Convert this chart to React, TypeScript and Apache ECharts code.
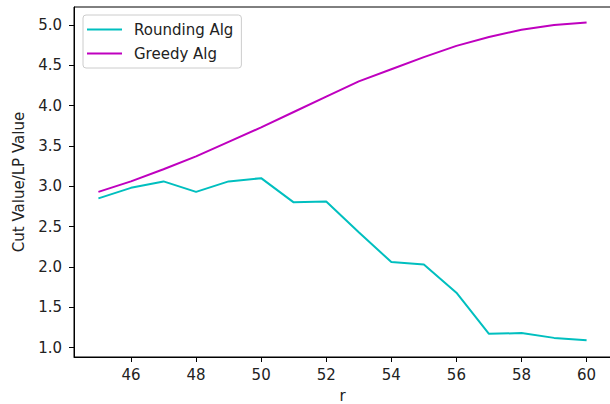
import React, { useEffect, useRef } from "react";
import * as echarts from "echarts";

const rValues = [45, 46, 47, 48, 49, 50, 51, 52, 53, 54, 55, 56, 57, 58, 59, 60];
const roundingAlg = [2.85, 2.98, 3.06, 2.93, 3.06, 3.10, 2.80, 2.81, 2.43, 2.06, 2.03, 1.68, 1.17, 1.18, 1.12, 1.09];
const greedyAlg = [2.93, 3.06, 3.21, 3.37, 3.55, 3.73, 3.92, 4.11, 4.30, 4.45, 4.60, 4.74, 4.85, 4.94, 5.00, 5.03];
const xTicks = [46, 48, 50, 52, 54, 56, 58, 60];
const yTicks = [1.0, 1.5, 2.0, 2.5, 3.0, 3.5, 4.0, 4.5, 5.0];
const xLabel = "r";
const yLabel = "Cut Value/LP Value";

const FONT = "DejaVu Sans";
const FS = 15;

export default function App() {
  const ref = useRef<HTMLDivElement>(null);
  useEffect(() => {
    const chart = echarts.init(ref.current!, null, { renderer: "svg" });
    chart.setOption({
      animation: false,
      backgroundColor: "#fff",
      grid: {
        left: 74,
        top: 7,
        bottom: 47,
        right: 3,
        containLabel: false,
        outerBoundsMode: "none",
        show: true,
        borderColor: "#000",
        borderWidth: 1,
        backgroundColor: "transparent",
      },
      legend: {
        left: 83,
        top: 15,
        orient: "vertical",
        icon: "rect",
        itemWidth: 35,
        itemHeight: 2,
        itemGap: 7,
        padding: [6, 8, 6, 4],
        borderColor: "#cccccc",
        borderWidth: 1,
        borderRadius: 3,
        backgroundColor: "rgba(255,255,255,0.8)",
        textStyle: { fontFamily: FONT, fontSize: FS, lineHeight: 17, color: "#222", padding: [0, 0, 0, 7] },
        data: ["Rounding Alg", "Greedy Alg"],
      },
      graphic: [
        {
          type: "text",
          x: 19,
          y: 182,
          rotation: Math.PI / 2,
          style: { text: yLabel, fontFamily: FONT, fontSize: FS, fill: "#222", align: "center", verticalAlign: "middle" },
        },
      ],
      xAxis: {
        type: "value",
        min: 44.25,
        max: 60.75,
        name: xLabel,
        nameLocation: "middle",
        nameGap: 31,
        nameTextStyle: { fontFamily: FONT, fontSize: FS, color: "#222" },
        axisLine: { show: true, onZero: false, lineStyle: { color: "#000", width: 1 } },
        axisTick: { show: true, length: 5, lineStyle: { color: "#000" }, customValues: xTicks },
        axisLabel: { fontFamily: FONT, fontSize: FS, color: "#222", margin: 10, customValues: xTicks },
        splitLine: { show: false },
      },
      yAxis: {
        type: "value",
        min: 0.883,
        max: 5.222,
        axisLine: { show: true, onZero: false, lineStyle: { color: "#000", width: 1 } },
        axisTick: { show: true, length: 5, lineStyle: { color: "#000" }, customValues: yTicks },
        axisLabel: {
          fontFamily: FONT,
          fontSize: FS,
          color: "#222",
          margin: 12,
          customValues: yTicks,
          formatter: (v: number) => v.toFixed(1),
        },
        splitLine: { show: false },
      },
      series: [
        {
          name: "Rounding Alg",
          type: "line",
          data: rValues.map((r, i) => [r, roundingAlg[i]]),
          symbol: "none",
          lineStyle: { color: "#00bfbf", width: 2 },
          itemStyle: { color: "#00bfbf" },
        },
        {
          name: "Greedy Alg",
          type: "line",
          data: rValues.map((r, i) => [r, greedyAlg[i]]),
          symbol: "none",
          lineStyle: { color: "#bf00bf", width: 2 },
          itemStyle: { color: "#bf00bf" },
        },
      ],
    });
    return () => chart.dispose();
  }, []);
  return (
    <div style={{ position: "fixed", left: 0, top: 0, width: 610, height: 404, overflow: "hidden", background: "#fff" }}>
      <div ref={ref} style={{ width: 614, height: 404 }} />
    </div>
  );
}
